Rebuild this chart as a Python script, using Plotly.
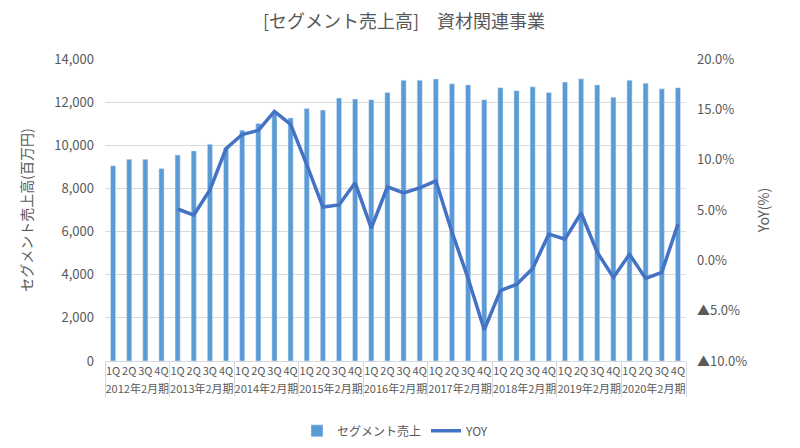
import plotly.graph_objects as go

years = ["2012年2月期", "2013年2月期", "2014年2月期", "2015年2月期", "2016年2月期",
         "2017年2月期", "2018年2月期", "2019年2月期", "2020年2月期"]
quarters = ["1Q", "2Q", "3Q", "4Q"]

sales = [9050, 9350, 9350, 8920,
         9550, 9740, 10050, 9900,
         10700, 11010, 11550, 11270,
         11700, 11630, 12190, 12140,
         12110, 12450, 13020, 13020,
         13070, 12850, 12800, 12110,
         12670, 12530, 12710, 12450,
         12930, 13080, 12800, 12230,
         13020, 12880, 12620, 12670]

yoy = [None, None, None, None,
       5.1, 4.5, 7.0, 11.1,
       12.5, 12.9, 14.8, 13.5,
       9.5, 5.3, 5.5, 7.7,
       3.2, 7.3, 6.7, 7.2,
       7.9, 2.8, -1.8, -6.9,
       -3.0, -2.4, -0.8, 2.6,
       2.1, 4.7, 0.8, -1.7,
       0.6, -1.8, -1.2, 3.6]

yoy_ticks = [20, 15, 10, 5, 0, -5, -10]
yoy_labels = ["20.0%", "15.0%", "10.0%", "5.0%", "0.0%", "▲5.0%", "▲10.0%"]

x_outer = [y for y in years for q in quarters]
x_inner = [q for y in years for q in quarters]

font = "Noto Sans CJK JP"
gray = "#595959"

fig = go.Figure()

fig.add_trace(
    go.Bar(
        x=[x_outer, x_inner],
        y=sales,
        name="セグメント売上",
        marker_color="#5B9BD5"
    )
)

fig.add_trace(
    go.Scatter(
        x=[x_outer, x_inner],
        y=yoy,
        mode="lines",
        name="YOY",
        line=dict(color="#4472C4", width=3.5),
        yaxis="y2"
    )
)

# page body has an 8px margin, so the figure is 792x440
fig.update_layout(
    width=792,
    height=440,
    paper_bgcolor="white",
    plot_bgcolor="white",
    font=dict(family=font, color=gray, size=12),
    title=dict(
        text="[セグメント売上高]\u3000資材関連事業",
        x=0.5,
        xanchor="center",
        y=0.968,
        yanchor="middle",
        font=dict(size=18, color=gray, family=font)
    ),
    margin=dict(l=97, r=114, t=51, b=87),
    bargap=0.68,
    showlegend=True,
    legend=dict(
        orientation="h",
        x=0.5,
        xanchor="center",
        yref="container",
        y=0.039,
        yanchor="middle",
        font=dict(size=12, color=gray)
    ),
    xaxis=dict(
        type="multicategory",
        showgrid=False,
        showline=True,
        linecolor="#d9d9d9",
        showdividers=True,
        dividercolor="#d9d9d9",
        tickangle=0,
        ticks="outside",
        ticklen=9,
        tickcolor="rgba(0,0,0,0)",
        tickfont=dict(size=11, color=gray),
        automargin=False
    ),
    yaxis=dict(
        range=[0, 14000],
        dtick=2000,
        tickformat=",",
        showgrid=True,
        gridcolor="#d9d9d9",
        zeroline=False,
        tickfont=dict(size=13, color=gray),
        ticklabelstandoff=10,
        title=dict(text="セグメント売上高(百万円)", font=dict(size=14, color=gray), standoff=18),
        ticks="",
        automargin=False
    ),
    yaxis2=dict(
        overlaying="y",
        side="right",
        range=[-10, 20],
        tickvals=yoy_ticks,
        ticktext=yoy_labels,
        showgrid=False,
        zeroline=False,
        tickfont=dict(size=13, color=gray),
        ticklabelstandoff=10,
        title=dict(text="YoY(%)", font=dict(size=14, color=gray), standoff=12),
        automargin=False
    )
)

fig.write_html("out.html")
